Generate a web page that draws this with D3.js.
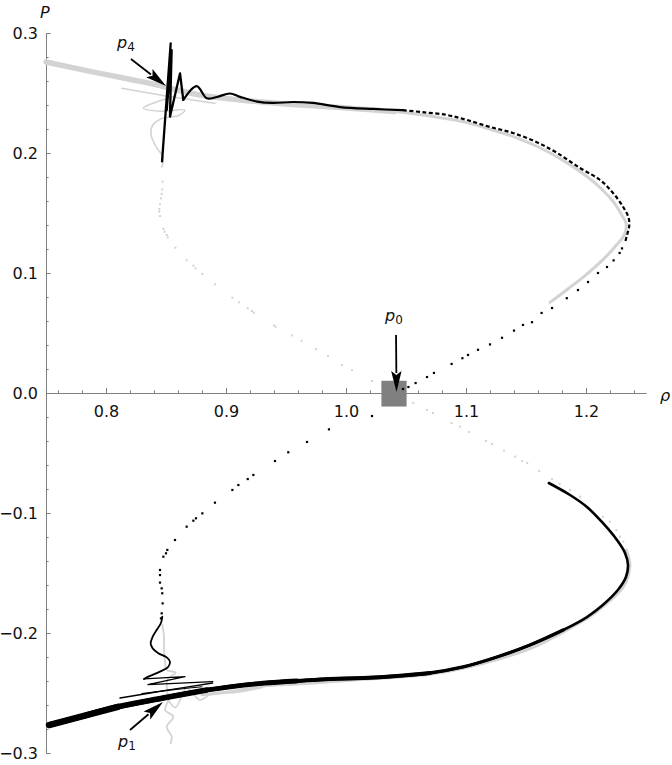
<!DOCTYPE html>
<html><head><meta charset="utf-8">
<script src="https://cdn.jsdelivr.net/npm/d3@7"></script>
<style>body{margin:0;background:#fff}svg{display:block}</style>
</head><body><svg id="c" width="672" height="765"></svg>
<script>
// ---------- data (rho, P) ----------
const xTicks = [0.8, 0.9, 1.0, 1.1, 1.2];
const yTicks = [-0.3, -0.2, -0.1, 0.0, 0.1, 0.2, 0.3];
const xMinor = [0.76,0.78,0.82,0.84,0.86,0.88,0.92,0.94,0.96,0.98,1.02,1.04,1.06,1.08,1.12,1.14,1.16,1.18,1.22,1.24];
const yMinor = [-0.28,-0.26,-0.24,-0.22,-0.18,-0.16,-0.14,-0.12,-0.08,-0.06,-0.04,-0.02,0.02,0.04,0.06,0.08,0.12,0.14,0.16,0.18,0.22,0.24,0.26,0.28];

// gray trajectory
const grayUpperBand = [[0.75,0.2758],[0.7917,0.267],[0.8367,0.258],[0.8783,0.2483],[0.9117,0.2442],[0.95,0.2408],[1.0,0.2375],[1.04,0.2345]];
const grayUpperStripes = [[0.8131,0.2539],[0.85,0.2475],[0.8908,0.2414]];
const grayUpperArc = [[1.04,0.2345],[1.06,0.2322],[1.08,0.2292],[1.1,0.2255],[1.12,0.2198],[1.14,0.2135],[1.16,0.2052],[1.18,0.1945],[1.2,0.181],[1.213,0.17],[1.223,0.159],[1.23,0.148],[1.2335,0.141],[1.232,0.132],[1.226,0.124],[1.215,0.112],[1.2,0.0985],[1.186,0.0875],[1.17,0.0755]];
const grayUpperWiggle = [[0.8583,0.2475],[0.842,0.2425],[0.831,0.2375],[0.845,0.2348],[0.8658,0.2358],[0.861,0.2315],[0.846,0.2285],[0.8385,0.2225],[0.8375,0.2155],[0.839,0.2108],[0.8425,0.204],[0.8475,0.1967],[0.8467,0.1883]];
const grayUpperDots = [[0.8472,0.1761],[0.8469,0.1697],[0.8464,0.1658],[0.8458,0.1622],[0.845,0.1572],[0.8444,0.1533],[0.8444,0.1511],[0.845,0.1475],[0.8478,0.1367],[0.8489,0.1344],[0.8506,0.1317],[0.8514,0.1297],[0.8578,0.1211],[0.8672,0.1106],[0.8728,0.1061],[0.8747,0.1039],[0.8803,0.0992],[0.8908,0.0906],[0.9053,0.0794],[0.9108,0.0756],[0.9181,0.0706],[0.9217,0.0683],[0.9233,0.0669],[0.94,0.0564],[0.9414,0.0553],[0.955,0.048],[0.963,0.0435],[0.975,0.0365],[0.985,0.031],[0.9967,0.0233],[1.005,0.019],[1.0217,0.01],[1.03,0.0055]];
const grayLowerDots = [[1.0475,-0.0033],[1.056,-0.0083],[1.0675,-0.014],[1.0725,-0.0167],[1.088,-0.025],[1.095,-0.028],[1.1025,-0.0325],[1.1167,-0.04],[1.1217,-0.0425],[1.1317,-0.048],[1.141,-0.053],[1.1467,-0.0567],[1.151,-0.0583],[1.161,-0.065],[1.1717,-0.0717],[1.178,-0.0758],[1.1867,-0.0808],[1.195,-0.0864],[1.2142,-0.1033],[1.22,-0.1072],[1.2253,-0.1142],[1.2283,-0.1197],[1.2311,-0.1239],[1.2336,-0.1308]];
const grayLowerLine = [[1.2336,-0.1308],[1.2365,-0.142],[1.2353,-0.152],[1.231,-0.1617],[1.22,-0.173],[1.205,-0.185],[1.185,-0.197],[1.157,-0.2115],[1.128,-0.2215],[1.0978,-0.2294],[1.07,-0.2344],[1.0422,-0.2369],[1.0144,-0.2386],[0.9867,-0.2406],[0.9589,-0.2425],[0.9311,-0.2442],[0.9033,-0.2489],[0.88,-0.2515]];
const grayLowerWiggle = [[0.8469,-0.1933],[0.8483,-0.2028],[0.8483,-0.2142],[0.8492,-0.2239],[0.8506,-0.2308],[0.858,-0.233],[0.8517,-0.238],[0.8506,-0.2447],[0.8519,-0.2558],[0.8492,-0.2642],[0.8561,-0.2697],[0.8506,-0.2781],[0.8547,-0.2864],[0.8539,-0.2919]];
const grayLowerLoop = [[0.8519,-0.2558],[0.858,-0.262],[0.8672,-0.2461],[0.8783,-0.2558],[0.889,-0.25],[0.9058,-0.2497],[0.93,-0.2455]];

// black trajectory
const blackUpperZigzag = [[0.8467,0.193],[0.8539,0.2914],[0.8506,0.2358],[0.8547,0.2858],[0.8533,0.2303],[0.8617,0.2664],[0.8644,0.2442]];
const blackUpperWave = [[0.8644,0.2442],[0.8756,0.2558],[0.8839,0.2456],[0.8925,0.2467],[0.9033,0.2496],[0.9117,0.2468],[0.926,0.2428],[0.939,0.2417],[0.956,0.2425],[0.9725,0.2417],[0.995,0.2383],[1.0225,0.2367],[1.0475,0.2357]];
const blackUpperDashes = [[1.0475,0.2357],[1.064,0.234],[1.084,0.2317],[1.1008,0.2275],[1.12,0.2217],[1.139,0.2167],[1.159,0.209],[1.176,0.2],[1.195,0.1875],[1.2117,0.1775],[1.2225,0.1667],[1.231,0.155],[1.2355,0.146],[1.236,0.139],[1.234,0.131],[1.2325,0.125]];
const blackUpperDots = [[1.23,0.1205],[1.228,0.1167],[1.223,0.1105],[1.2175,0.105],[1.21,0.1],[1.2017,0.0925],[1.1933,0.0858],[1.184,0.079],[1.1717,0.0708],[1.163,0.0667],[1.155,0.059],[1.1475,0.0567],[1.14,0.052],[1.13,0.046],[1.12,0.0405],[1.11,0.036],[1.1017,0.0317],[1.097,0.029],[1.088,0.0242],[1.0733,0.0167],[1.0675,0.0133],[1.058,0.0083],[1.052,0.005],[1.0475,0.0033]];
const blackLowerDots = [[1.0217,-0.0192],[0.9858,-0.0303],[0.9675,-0.0408],[0.9519,-0.0494],[0.9408,-0.0567],[0.9228,-0.0683],[0.9181,-0.0717],[0.9103,-0.0767],[0.9053,-0.0808],[0.8908,-0.0914],[0.8803,-0.1003],[0.875,-0.1044],[0.8728,-0.1064],[0.8672,-0.1114],[0.8575,-0.1225],[0.8511,-0.1308],[0.85,-0.1336],[0.8478,-0.1364],[0.845,-0.1475],[0.845,-0.1517],[0.845,-0.158],[0.8464,-0.1628],[0.8469,-0.1669],[0.8472,-0.1753],[0.8464,-0.1836],[0.8458,-0.1878]];
const blackLowerWave = [[0.8469,-0.1864],[0.8458,-0.1917],[0.8422,-0.1975],[0.8389,-0.2031],[0.8372,-0.2086],[0.8389,-0.2128],[0.8436,-0.2169],[0.8506,-0.2203],[0.8533,-0.2239],[0.8519,-0.2281],[0.845,-0.2322],[0.8353,-0.2364],[0.8317,-0.2383]];
const blackLowerZigzag = [[0.8317,-0.2383],[0.8658,-0.2364],[0.835,-0.243],[0.8889,-0.2405]];
const blackLowerStripeA = [[0.8117,-0.2542],[0.85,-0.2478],[0.8889,-0.2417]];
const blackLowerStripeB = [[0.83,-0.2505],[0.86,-0.2468],[0.88,-0.2448]];
const blackLowerBand = [[0.7525,-0.2767],[0.78,-0.2695],[0.81,-0.2615],[0.8475,-0.2542],[0.884,-0.2475],[0.9033,-0.2448],[0.931,-0.2418],[0.959,-0.24],[0.9867,-0.2383],[1.014,-0.2375],[1.0425,-0.2358],[1.07,-0.2333],[1.0975,-0.2283],[1.1258,-0.22],[1.1533,-0.21],[1.181,-0.1975],[1.2008,-0.1867],[1.214,-0.1767],[1.2267,-0.164],[1.2333,-0.1533],[1.235,-0.1433],[1.2325,-0.1333],[1.2258,-0.1225],[1.214,-0.1083],[1.2008,-0.095],[1.1867,-0.085],[1.169,-0.075]];

// markers
const p0Box = {rho:[1.0295,1.0505], P:[-0.0113,0.0102]};
const arrows = [
  {name:"4", tail:[0.8208,0.2783], tip:[0.85,0.2558], label:[0.8092,0.2875]},
  {name:"0", tail:[1.0417,0.0483], tip:[1.0421,0.0008], label:[1.0325,0.06]},
  {name:"1", tail:[0.82,-0.2808], tip:[0.8475,-0.2575], label:[0.81,-0.295]}
];

// ---------- chart ----------
const svg = d3.select("#c");
const x = d3.scaleLinear().domain([0.75,1.25]).range([46,646]);
const y = d3.scaleLinear().domain([-0.3,0.3]).range([753,33]);
const GRAY = "#d3d3d3", AX = "#808080";

const lineLin = d3.line().x(d=>x(d[0])).y(d=>y(d[1]));
const lineSm = d3.line().x(d=>x(d[0])).y(d=>y(d[1])).curve(d3.curveCatmullRom.alpha(0.5));

function path(data, gen, color, w, dash){
  const p = svg.append("path").datum(data).attr("d", gen).attr("fill","none")
    .attr("stroke", color).attr("stroke-width", w)
    .attr("stroke-linejoin","round").attr("stroke-linecap", dash ? "butt" : "round");
  if (dash) p.attr("stroke-dasharray", dash);
}
function dots(data, color, s){
  svg.append("g").selectAll("rect").data(data).join("rect")
    .attr("x", d=>x(d[0])-s/2).attr("y", d=>y(d[1])-s/2)
    .attr("width", s).attr("height", s).attr("fill", color);
}

// axes
const xAxis = d3.axisBottom(x).tickValues(xTicks).tickFormat(d3.format(".1f"))
  .tickSizeInner(-5).tickSizeOuter(0).tickPadding(12.6);
const gx = svg.append("g").attr("transform",`translate(0,${y(0)})`).call(xAxis);
const xMin = d3.axisBottom(x).tickValues(xMinor).tickFormat("").tickSizeInner(-2.6).tickSizeOuter(0);
const gxm = svg.append("g").attr("transform",`translate(0,${y(0)})`).call(xMin);
gxm.select(".domain").remove();

const yAxis = d3.axisLeft(y).tickValues(yTicks).tickFormat(d3.format(".1f"))
  .tickSizeInner(-4.5).tickSizeOuter(0).tickPadding(8);
const gy = svg.append("g").attr("transform",`translate(${x(0.75)},0)`).call(yAxis);
const yMin = d3.axisLeft(y).tickValues(yMinor).tickFormat("").tickSizeInner(-2.6).tickSizeOuter(0);
const gym = svg.append("g").attr("transform",`translate(${x(0.75)},0)`).call(yMin);
gym.select(".domain").remove();

[gx,gxm,gy,gym].forEach(g=>{
  g.selectAll("path,line").attr("stroke",AX).attr("stroke-width",1);
  g.selectAll("text").attr("fill","#111").style("font-family","DejaVu Sans").style("font-size","16px");
});

svg.append("text").attr("x",40).attr("y",18).text("P")
  .style("font-family","DejaVu Sans").style("font-style","italic").style("font-size","16px").attr("fill","#111");
svg.append("text").attr("x",660).attr("y",401).text("ρ")
  .style("font-family","DejaVu Sans").style("font-style","italic").style("font-size","16px").attr("fill","#111");

// gray trajectory
path(grayUpperBand, lineSm, GRAY, 5.5);
path(grayUpperStripes, lineSm, GRAY, 1.5);
path(grayUpperArc, lineSm, GRAY, 3);
path(grayUpperWiggle, lineSm, GRAY, 1.6);
dots(grayUpperDots, GRAY, 2);
dots(grayLowerDots, GRAY, 2);
path(grayLowerLine, lineSm, GRAY, 3);
path(grayLowerWiggle, lineSm, GRAY, 1.8);
path(grayLowerLoop, lineSm, GRAY, 1.6);

// p0 box
svg.append("rect").attr("x", x(p0Box.rho[0])).attr("y", y(p0Box.P[1]))
  .attr("width", x(p0Box.rho[1])-x(p0Box.rho[0])).attr("height", y(p0Box.P[0])-y(p0Box.P[1]))
  .attr("fill","#808080");

// black trajectory
path(blackUpperZigzag, lineLin, "#000", 2.3);
path(blackUpperWave, lineSm, "#000", 2.2);
path(blackUpperDashes, lineSm, "#000", 2.2, "4 2.5");
dots(blackUpperDots, "#000", 2.2);
dots(blackLowerDots, "#000", 2.2);
path(blackLowerWave, lineSm, "#000", 1.8);
path(blackLowerZigzag, lineLin, "#000", 1.3);
path(blackLowerStripeA, lineSm, "#000", 1.4);
path(blackLowerStripeB, lineSm, "#000", 1.2);
// band thickness tapers from left to right: draw nested prefixes of the band
[[null,2.6],[1.16,3.4],[1.06,4.0],[0.94,4.8],[0.86,5.6],[0.8,6.4]].forEach(([lim,w])=>{
  const part = lim === null ? blackLowerBand
    : blackLowerBand.slice(0, blackLowerBand.findIndex(p=>p[0]>=lim)+1);
  path(part, lineSm, "#000", w);
});

// arrows + labels
arrows.forEach(a=>{
  const x0=x(a.tail[0]), y0=y(a.tail[1]), x1=x(a.tip[0]), y1=y(a.tip[1]);
  const dx=x1-x0, dy=y1-y0, L=Math.hypot(dx,dy), ux=dx/L, uy=dy/L;
  const hl=21, hw=5.2;
  const bx=x1-ux*hl, by=y1-uy*hl;
  svg.append("line").attr("x1",x0).attr("y1",y0).attr("x2",bx+ux*2).attr("y2",by+uy*2)
    .attr("stroke","#000").attr("stroke-width",1.8);
  svg.append("path").attr("d",`M${x1},${y1}L${bx-uy*hw},${by+ux*hw}L${bx+ux*4},${by+uy*4}L${bx+uy*hw},${by-ux*hw}Z`)
    .attr("fill","#000");
  const t = svg.append("text").attr("x", x(a.label[0])).attr("y", y(a.label[1]))
    .style("font-family","DejaVu Sans").attr("fill","#111");
  t.append("tspan").text("p").style("font-style","italic").style("font-size","16px");
  t.append("tspan").text(a.name).attr("dy",3).style("font-size","12px");
});
</script></body></html>
